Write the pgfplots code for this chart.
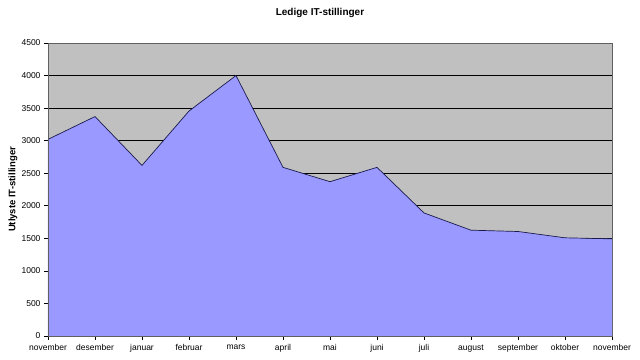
\documentclass[border=0pt]{standalone}
\usepackage{pgfplots}
\pgfplotsset{compat=1.18}
\usepackage{fontspec}
\setmainfont{Liberation Sans}
\usetikzlibrary{calc}
\definecolor{plotbg}{HTML}{C0C0C0}
\definecolor{areafill}{HTML}{9999FF}
\definecolor{outline}{HTML}{1A1A4D}
\definecolor{axgray}{HTML}{606060}
\begin{document}
\begin{tikzpicture}
\begin{axis}[name=ax, scale only axis, width=564pt, height=293pt,
  xmin=0, xmax=12, ymin=0, ymax=4500,
  xtick={0,...,12},
  xticklabels={november,desember,januar,februar,mars,april,mai,juni,juli,august,september,oktober,november},
  ytick={0,500,...,4500},
  xtick pos=bottom, ytick pos=left,
  axis background/.style={fill=plotbg},
  ymajorgrids, grid style={black, line width=0.8pt},
  axis line style={axgray},
  tick align=outside, tick style={black, line width=0.6pt}, major tick length=4pt,
  x tick label style={font=\fontsize{8.5}{10}\selectfont, yshift=-1pt},
  y tick label style={font=\fontsize{8.5}{10}\selectfont},
  /pgf/number format/assume math mode=true,
  /pgf/number format/1000 sep={},
]
\addplot[fill=areafill, draw=none] coordinates {
  (0,3020) (1,3370) (2,2620) (3,3455) (4,4000) (5,2590) (6,2370)
  (7,2590) (8,1890) (9,1625) (10,1605) (11,1508) (12,1492)
} \closedcycle;
\addplot[outline, line width=0.7pt] coordinates {
  (0,3020) (1,3370) (2,2620) (3,3455) (4,4000) (5,2590) (6,2370)
  (7,2590) (8,1890) (9,1625) (10,1605) (11,1508) (12,1492)
};
\draw[axgray, line width=0.7pt] (rel axis cs:0,0) rectangle (rel axis cs:1,1);
\draw[black, line width=0.8pt] (rel axis cs:0,0) -- (rel axis cs:1,0);
\end{axis}
\node[font=\bfseries\fontsize{10}{12}\selectfont] at ($(ax.north west)+(272pt,30pt)$) {Ledige IT-stillinger};
\node[font=\bfseries\fontsize{9.5}{11}\selectfont, rotate=90] at ($(ax.west)+(-35pt,0)$) {Utlyste IT-stillinger};
\path ($(ax.south west)+(-48pt,-24pt)$) rectangle ($(ax.north east)+(28pt,43pt)$);
\end{tikzpicture}
\end{document}
